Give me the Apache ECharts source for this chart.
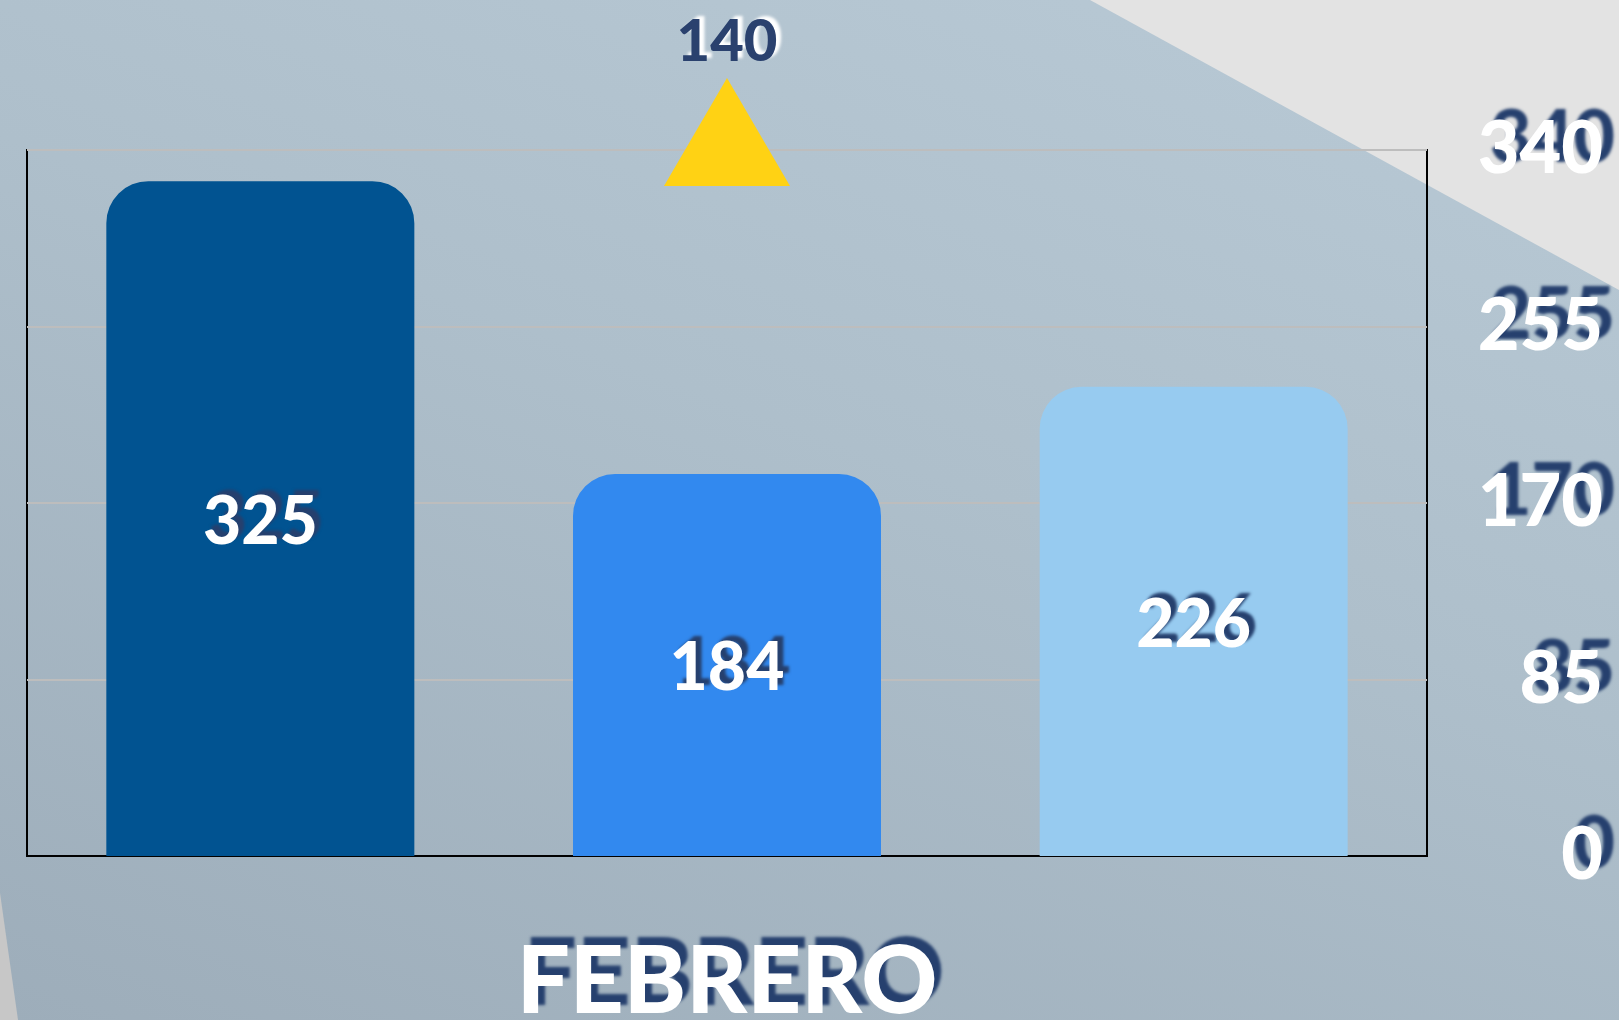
<!DOCTYPE html>
<html lang="es">

<head>
    <meta charset="UTF-8">
    <title>febrero</title>
    <script src="https://cdn.jsdelivr.net/npm/echarts@6/dist/echarts.min.js"></script>
    <style>
        html, body { margin: 0; padding: 0; }
        #main {
            width: 1619px;
            height: 1020px;
            background: linear-gradient(200deg, #b9cad6 0%, #aebfcb 45%, #9dadba 100%);
        }
    </style>
</head>

<body>
    <div id="main"></div>
    <script>
        // datos
        var categorias = ['A', 'B', 'C']
        var valores = [325, 184, 226]
        var coloresBarras = ['#015391', '#3289ef', '#97cbf0']
        var valorIndicador = [140]      // numero sobre el triangulo amarillo
        var ejeMax = 340
        var ejeIntervalo = 85
        var mes = 'FEBRERO'

        var azulSombra = '#26406e'
        var fuente = 'Lato'

        var myChart = echarts.init(document.getElementById('main'))

        var barData = valores.map(function (v, i) {
            return { value: v, itemStyle: { color: coloresBarras[i] } }
        })

        var option = {
            animation: false,
            // formas grises del fondo
            graphic: [
                {
                    type: 'polygon',
                    z: -10,
                    shape: { points: [[1090, 0], [1619, 0], [1619, 290]] },
                    style: { fill: '#e3e3e3' }
                },
                {
                    type: 'polygon',
                    z: -10,
                    shape: { points: [[0, 893], [18, 1020], [0, 1020]] },
                    style: { fill: '#c7c7c7' }
                }
            ],
            grid: {
                left: 27,
                right: 192,
                top: 150,
                bottom: 164,
                outerBoundsMode: 'none',
                show: true,
                borderColor: '#000',
                borderWidth: 2,
                backgroundColor: 'transparent'
            },
            xAxis: {
                type: 'category',
                data: categorias,
                axisLabel: { show: false },
                axisTick: { show: false },
                axisLine: { lineStyle: { color: '#000', width: 2 } },
                name: mes,
                nameLocation: 'middle',
                nameGap: 80,
                nameTextStyle: {
                    fontFamily: fuente,
                    fontWeight: 900,
                    fontSize: 94,
                    color: '#fff',
                    textShadowColor: azulSombra,
                    textShadowBlur: 3,
                    textShadowOffsetX: 7,
                    textShadowOffsetY: -8
                }
            },
            yAxis: {
                type: 'value',
                position: 'right',
                min: 0,
                max: ejeMax,
                interval: ejeIntervalo,
                axisLine: { show: false },
                axisTick: { show: false },
                splitLine: { lineStyle: { color: '#bdbdbd', width: 2 } },
                axisLabel: {
                    align: 'right',
                    margin: 176,
                    padding: [6, 0, 0, 0],
                    fontFamily: fuente,
                    fontWeight: 900,
                    fontSize: 72,
                    color: '#fff',
                    textShadowColor: azulSombra,
                    textShadowBlur: 3,
                    textShadowOffsetX: 12,
                    textShadowOffsetY: -11
                }
            },
            series: [
                {
                    type: 'bar',
                    data: barData,
                    barWidth: '66%',
                    itemStyle: { borderRadius: [42, 42, 0, 0] },
                    label: {
                        show: true,
                        position: 'inside',
                        offset: [0, 4],
                        fontFamily: fuente,
                        fontWeight: 900,
                        fontSize: 66,
                        color: '#fff',
                        textShadowColor: azulSombra,
                        textShadowBlur: 3,
                        textShadowOffsetX: 6,
                        textShadowOffsetY: -5
                    }
                },
                {
                    // triangulo amarillo encima de la barra del medio
                    type: 'scatter',
                    clip: false,
                    z: 5,
                    data: [[categorias[1], ejeMax]],
                    symbol: 'triangle',
                    symbolSize: [126, 108],
                    symbolOffset: [0, -18],
                    itemStyle: { color: '#ffd214', opacity: 1 },
                    label: {
                        show: true,
                        position: 'top',
                        distance: 7,
                        formatter: function () { return valorIndicador[0] },
                        fontFamily: fuente,
                        fontWeight: 900,
                        fontSize: 58,
                        color: '#2a416e',
                        textShadowColor: '#fff',
                        textShadowBlur: 3,
                        textShadowOffsetX: 5,
                        textShadowOffsetY: -3
                    }
                }
            ]
        }
        myChart.setOption(option)
    </script>
</body>

</html>
